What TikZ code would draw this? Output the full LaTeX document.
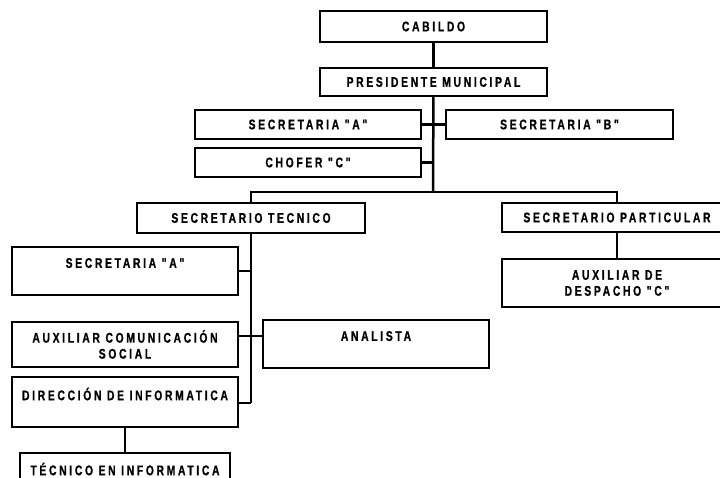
\documentclass[tikz,border=0pt]{standalone}
\usepackage{fontspec}
\newfontfamily\orgfont[FakeStretch=0.74,LetterSpace=19,FakeBold=0.8]{Liberation Sans Bold}
\tikzset{
	cargo/.style={draw, line width=2.5pt, inner sep=1pt, align=center,
		font=\orgfont\fontsize{14}{16}\selectfont},
	enlace/.style={line width=2.5pt}
}
\begin{document}
\begin{tikzpicture}[x=1pt,y=-1pt]
	\clip (0,0) rectangle (720,478);
	\fill[white] (0,0) rectangle (720,478);
	\node (cab)    at (433.5, 26.5)  [cargo, minimum width=227pt, minimum height=31pt]	{CABILDO};
	\node (pres)   at (433.5, 82)    [cargo, minimum width=227pt, minimum height=28pt]	{PRESIDENTE MUNICIPAL};
	\node (seca)   at (308, 124.5)   [cargo, minimum width=226pt, minimum height=29pt]	{SECRETARIA "A"};
	\node (secb)   at (559.5, 124.5) [cargo, minimum width=227pt, minimum height=29pt]	{SECRETARIA "B"};
	\node (chofer) at (308, 162.5)   [cargo, minimum width=226pt, minimum height=29pt]	{CHOFER "C"};
	\node (stec)   at (251, 218)     [cargo, minimum width=228pt, minimum height=30pt]	{SECRETARIO TECNICO};
	\node (spart)  at (617, 217.5)   [cargo, minimum width=230pt, minimum height=29pt]	{SECRETARIO PARTICULAR};
	\node (aux)    at (617, 283)     [cargo, minimum width=230pt, minimum height=48pt]	{AUXILIAR DE\\DESPACHO "C"};
	\node (seca2)  at (125, 271)     [cargo, minimum width=226pt, minimum height=48pt]	{SECRETARIA "A"\\\mbox{}};
	\node (acom)   at (125, 344.5)   [cargo, minimum width=226pt, minimum height=45pt]	{AUXILIAR COMUNICACIÓN\\SOCIAL};
	\node (anal)   at (376, 344)     [cargo, minimum width=226pt, minimum height=48pt]	{ANALISTA\\\mbox{}};
	\node (dinf)   at (125, 402)     [cargo, minimum width=226pt, minimum height=50pt]	{DIRECCIÓN DE INFORMATICA\\\mbox{}};
	\node (tinf)   at (125, 477)     [cargo, minimum width=210pt, minimum height=48pt]	{TÉCNICO EN INFORMATICA\\\mbox{}};
	\coordinate (bus) at (433, 192);
	\coordinate (j1)  at (251, 403);
	\coordinate (j2)  at (251, 336);
	\draw[enlace] (cab) -- (pres);
	\draw[enlace] (pres) -- (bus);
	\draw[enlace] (seca.east) -- (secb.west);
	\draw[enlace] (chofer.east) -- (chofer.east -| bus);
	\draw[enlace] (bus) -| (stec.north);
	\draw[enlace] (bus) -| (spart.north);
	\draw[enlace] (spart) -- (aux);
	\draw[enlace] (stec) -- (j1);
	\draw[enlace] (seca2.east) -- (seca2.east -| j1);
	\draw[enlace] (acom.east |- j2) -- (anal.west |- j2);
	\draw[enlace] (dinf.east |- j1) -- (j1);
	\draw[enlace] (dinf) -- (tinf);
\end{tikzpicture}
\end{document}
